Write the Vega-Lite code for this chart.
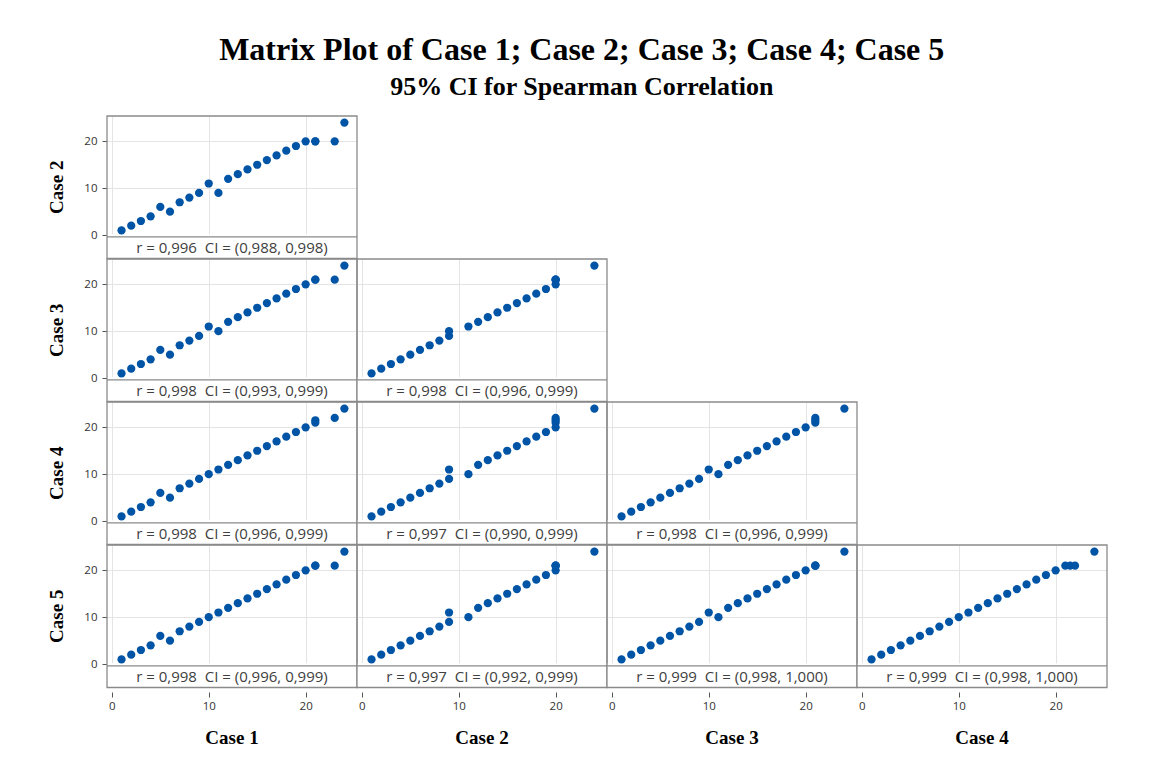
{
  "$schema": "https://vega.github.io/schema/vega-lite/v6.json",
  "background": "white",
  "padding": {"left": 47, "top": 34, "right": 5, "bottom": 5},
  "bounds": "flush",
  "title": {
    "text": "Matrix Plot of Case 1; Case 2; Case 3; Case 4; Case 5",
    "subtitle": "95% CI for Spearman Correlation",
    "font": "Liberation Serif", "fontSize": 32, "fontWeight": "bold", "color": "black",
    "subtitleFont": "Liberation Serif", "subtitleFontSize": 26, "subtitleFontWeight": "bold", "subtitleColor": "black",
    "subtitlePadding": 7, "anchor": "middle", "offset": 14, "dx": 4
  },
  "data": {"values": [
    {"xv":"Case 1","yv":"Case 2","label":"r = 0,996\u00a0\u00a0CI = (0,988, 0,998)"},
    {"xv":"Case 1","yv":"Case 3","label":"r = 0,998\u00a0\u00a0CI = (0,993, 0,999)"},
    {"xv":"Case 2","yv":"Case 3","label":"r = 0,998\u00a0\u00a0CI = (0,996, 0,999)"},
    {"xv":"Case 1","yv":"Case 4","label":"r = 0,998\u00a0\u00a0CI = (0,996, 0,999)"},
    {"xv":"Case 2","yv":"Case 4","label":"r = 0,997\u00a0\u00a0CI = (0,990, 0,999)"},
    {"xv":"Case 3","yv":"Case 4","label":"r = 0,998\u00a0\u00a0CI = (0,996, 0,999)"},
    {"xv":"Case 1","yv":"Case 5","label":"r = 0,998\u00a0\u00a0CI = (0,996, 0,999)"},
    {"xv":"Case 2","yv":"Case 5","label":"r = 0,997\u00a0\u00a0CI = (0,992, 0,999)"},
    {"xv":"Case 3","yv":"Case 5","label":"r = 0,999\u00a0\u00a0CI = (0,998, 1,000)"},
    {"xv":"Case 4","yv":"Case 5","label":"r = 0,999\u00a0\u00a0CI = (0,998, 1,000)"},

    {"xv":"Case 1","yv":"Case 2","x":1,"y":1},{"xv":"Case 1","yv":"Case 2","x":2,"y":2},{"xv":"Case 1","yv":"Case 2","x":3,"y":3},{"xv":"Case 1","yv":"Case 2","x":4,"y":4},
    {"xv":"Case 1","yv":"Case 2","x":5,"y":6},{"xv":"Case 1","yv":"Case 2","x":6,"y":5},{"xv":"Case 1","yv":"Case 2","x":7,"y":7},{"xv":"Case 1","yv":"Case 2","x":8,"y":8},
    {"xv":"Case 1","yv":"Case 2","x":9,"y":9},{"xv":"Case 1","yv":"Case 2","x":10,"y":11},{"xv":"Case 1","yv":"Case 2","x":11,"y":9},{"xv":"Case 1","yv":"Case 2","x":12,"y":12},
    {"xv":"Case 1","yv":"Case 2","x":13,"y":13},{"xv":"Case 1","yv":"Case 2","x":14,"y":14},{"xv":"Case 1","yv":"Case 2","x":15,"y":15},{"xv":"Case 1","yv":"Case 2","x":16,"y":16},
    {"xv":"Case 1","yv":"Case 2","x":17,"y":17},{"xv":"Case 1","yv":"Case 2","x":18,"y":18},{"xv":"Case 1","yv":"Case 2","x":19,"y":19},{"xv":"Case 1","yv":"Case 2","x":20,"y":20},
    {"xv":"Case 1","yv":"Case 2","x":21,"y":20},{"xv":"Case 1","yv":"Case 2","x":21,"y":20},{"xv":"Case 1","yv":"Case 2","x":23,"y":20},{"xv":"Case 1","yv":"Case 2","x":24,"y":24},

    {"xv":"Case 1","yv":"Case 3","x":1,"y":1},{"xv":"Case 1","yv":"Case 3","x":2,"y":2},{"xv":"Case 1","yv":"Case 3","x":3,"y":3},{"xv":"Case 1","yv":"Case 3","x":4,"y":4},
    {"xv":"Case 1","yv":"Case 3","x":5,"y":6},{"xv":"Case 1","yv":"Case 3","x":6,"y":5},{"xv":"Case 1","yv":"Case 3","x":7,"y":7},{"xv":"Case 1","yv":"Case 3","x":8,"y":8},
    {"xv":"Case 1","yv":"Case 3","x":9,"y":9},{"xv":"Case 1","yv":"Case 3","x":10,"y":11},{"xv":"Case 1","yv":"Case 3","x":11,"y":10},{"xv":"Case 1","yv":"Case 3","x":12,"y":12},
    {"xv":"Case 1","yv":"Case 3","x":13,"y":13},{"xv":"Case 1","yv":"Case 3","x":14,"y":14},{"xv":"Case 1","yv":"Case 3","x":15,"y":15},{"xv":"Case 1","yv":"Case 3","x":16,"y":16},
    {"xv":"Case 1","yv":"Case 3","x":17,"y":17},{"xv":"Case 1","yv":"Case 3","x":18,"y":18},{"xv":"Case 1","yv":"Case 3","x":19,"y":19},{"xv":"Case 1","yv":"Case 3","x":20,"y":20},
    {"xv":"Case 1","yv":"Case 3","x":21,"y":21},{"xv":"Case 1","yv":"Case 3","x":21,"y":21},{"xv":"Case 1","yv":"Case 3","x":23,"y":21},{"xv":"Case 1","yv":"Case 3","x":24,"y":24},

    {"xv":"Case 2","yv":"Case 3","x":1,"y":1},{"xv":"Case 2","yv":"Case 3","x":2,"y":2},{"xv":"Case 2","yv":"Case 3","x":3,"y":3},{"xv":"Case 2","yv":"Case 3","x":4,"y":4},
    {"xv":"Case 2","yv":"Case 3","x":6,"y":6},{"xv":"Case 2","yv":"Case 3","x":5,"y":5},{"xv":"Case 2","yv":"Case 3","x":7,"y":7},{"xv":"Case 2","yv":"Case 3","x":8,"y":8},
    {"xv":"Case 2","yv":"Case 3","x":9,"y":9},{"xv":"Case 2","yv":"Case 3","x":11,"y":11},{"xv":"Case 2","yv":"Case 3","x":9,"y":10},{"xv":"Case 2","yv":"Case 3","x":12,"y":12},
    {"xv":"Case 2","yv":"Case 3","x":13,"y":13},{"xv":"Case 2","yv":"Case 3","x":14,"y":14},{"xv":"Case 2","yv":"Case 3","x":15,"y":15},{"xv":"Case 2","yv":"Case 3","x":16,"y":16},
    {"xv":"Case 2","yv":"Case 3","x":17,"y":17},{"xv":"Case 2","yv":"Case 3","x":18,"y":18},{"xv":"Case 2","yv":"Case 3","x":19,"y":19},{"xv":"Case 2","yv":"Case 3","x":20,"y":20},
    {"xv":"Case 2","yv":"Case 3","x":20,"y":21},{"xv":"Case 2","yv":"Case 3","x":20,"y":21},{"xv":"Case 2","yv":"Case 3","x":20,"y":21},{"xv":"Case 2","yv":"Case 3","x":24,"y":24},

    {"xv":"Case 1","yv":"Case 4","x":1,"y":1},{"xv":"Case 1","yv":"Case 4","x":2,"y":2},{"xv":"Case 1","yv":"Case 4","x":3,"y":3},{"xv":"Case 1","yv":"Case 4","x":4,"y":4},
    {"xv":"Case 1","yv":"Case 4","x":5,"y":6},{"xv":"Case 1","yv":"Case 4","x":6,"y":5},{"xv":"Case 1","yv":"Case 4","x":7,"y":7},{"xv":"Case 1","yv":"Case 4","x":8,"y":8},
    {"xv":"Case 1","yv":"Case 4","x":9,"y":9},{"xv":"Case 1","yv":"Case 4","x":10,"y":10},{"xv":"Case 1","yv":"Case 4","x":11,"y":11},{"xv":"Case 1","yv":"Case 4","x":12,"y":12},
    {"xv":"Case 1","yv":"Case 4","x":13,"y":13},{"xv":"Case 1","yv":"Case 4","x":14,"y":14},{"xv":"Case 1","yv":"Case 4","x":15,"y":15},{"xv":"Case 1","yv":"Case 4","x":16,"y":16},
    {"xv":"Case 1","yv":"Case 4","x":17,"y":17},{"xv":"Case 1","yv":"Case 4","x":18,"y":18},{"xv":"Case 1","yv":"Case 4","x":19,"y":19},{"xv":"Case 1","yv":"Case 4","x":20,"y":20},
    {"xv":"Case 1","yv":"Case 4","x":21,"y":21},{"xv":"Case 1","yv":"Case 4","x":21,"y":21.5},{"xv":"Case 1","yv":"Case 4","x":23,"y":22},{"xv":"Case 1","yv":"Case 4","x":24,"y":24},

    {"xv":"Case 2","yv":"Case 4","x":1,"y":1},{"xv":"Case 2","yv":"Case 4","x":2,"y":2},{"xv":"Case 2","yv":"Case 4","x":3,"y":3},{"xv":"Case 2","yv":"Case 4","x":4,"y":4},
    {"xv":"Case 2","yv":"Case 4","x":6,"y":6},{"xv":"Case 2","yv":"Case 4","x":5,"y":5},{"xv":"Case 2","yv":"Case 4","x":7,"y":7},{"xv":"Case 2","yv":"Case 4","x":8,"y":8},
    {"xv":"Case 2","yv":"Case 4","x":9,"y":9},{"xv":"Case 2","yv":"Case 4","x":11,"y":10},{"xv":"Case 2","yv":"Case 4","x":9,"y":11},{"xv":"Case 2","yv":"Case 4","x":12,"y":12},
    {"xv":"Case 2","yv":"Case 4","x":13,"y":13},{"xv":"Case 2","yv":"Case 4","x":14,"y":14},{"xv":"Case 2","yv":"Case 4","x":15,"y":15},{"xv":"Case 2","yv":"Case 4","x":16,"y":16},
    {"xv":"Case 2","yv":"Case 4","x":17,"y":17},{"xv":"Case 2","yv":"Case 4","x":18,"y":18},{"xv":"Case 2","yv":"Case 4","x":19,"y":19},{"xv":"Case 2","yv":"Case 4","x":20,"y":20},
    {"xv":"Case 2","yv":"Case 4","x":20,"y":21},{"xv":"Case 2","yv":"Case 4","x":20,"y":21.5},{"xv":"Case 2","yv":"Case 4","x":20,"y":22},{"xv":"Case 2","yv":"Case 4","x":24,"y":24},

    {"xv":"Case 3","yv":"Case 4","x":1,"y":1},{"xv":"Case 3","yv":"Case 4","x":2,"y":2},{"xv":"Case 3","yv":"Case 4","x":3,"y":3},{"xv":"Case 3","yv":"Case 4","x":4,"y":4},
    {"xv":"Case 3","yv":"Case 4","x":6,"y":6},{"xv":"Case 3","yv":"Case 4","x":5,"y":5},{"xv":"Case 3","yv":"Case 4","x":7,"y":7},{"xv":"Case 3","yv":"Case 4","x":8,"y":8},
    {"xv":"Case 3","yv":"Case 4","x":9,"y":9},{"xv":"Case 3","yv":"Case 4","x":11,"y":10},{"xv":"Case 3","yv":"Case 4","x":10,"y":11},{"xv":"Case 3","yv":"Case 4","x":12,"y":12},
    {"xv":"Case 3","yv":"Case 4","x":13,"y":13},{"xv":"Case 3","yv":"Case 4","x":14,"y":14},{"xv":"Case 3","yv":"Case 4","x":15,"y":15},{"xv":"Case 3","yv":"Case 4","x":16,"y":16},
    {"xv":"Case 3","yv":"Case 4","x":17,"y":17},{"xv":"Case 3","yv":"Case 4","x":18,"y":18},{"xv":"Case 3","yv":"Case 4","x":19,"y":19},{"xv":"Case 3","yv":"Case 4","x":20,"y":20},
    {"xv":"Case 3","yv":"Case 4","x":21,"y":21},{"xv":"Case 3","yv":"Case 4","x":21,"y":21.5},{"xv":"Case 3","yv":"Case 4","x":21,"y":22},{"xv":"Case 3","yv":"Case 4","x":24,"y":24},

    {"xv":"Case 1","yv":"Case 5","x":1,"y":1},{"xv":"Case 1","yv":"Case 5","x":2,"y":2},{"xv":"Case 1","yv":"Case 5","x":3,"y":3},{"xv":"Case 1","yv":"Case 5","x":4,"y":4},
    {"xv":"Case 1","yv":"Case 5","x":5,"y":6},{"xv":"Case 1","yv":"Case 5","x":6,"y":5},{"xv":"Case 1","yv":"Case 5","x":7,"y":7},{"xv":"Case 1","yv":"Case 5","x":8,"y":8},
    {"xv":"Case 1","yv":"Case 5","x":9,"y":9},{"xv":"Case 1","yv":"Case 5","x":10,"y":10},{"xv":"Case 1","yv":"Case 5","x":11,"y":11},{"xv":"Case 1","yv":"Case 5","x":12,"y":12},
    {"xv":"Case 1","yv":"Case 5","x":13,"y":13},{"xv":"Case 1","yv":"Case 5","x":14,"y":14},{"xv":"Case 1","yv":"Case 5","x":15,"y":15},{"xv":"Case 1","yv":"Case 5","x":16,"y":16},
    {"xv":"Case 1","yv":"Case 5","x":17,"y":17},{"xv":"Case 1","yv":"Case 5","x":18,"y":18},{"xv":"Case 1","yv":"Case 5","x":19,"y":19},{"xv":"Case 1","yv":"Case 5","x":20,"y":20},
    {"xv":"Case 1","yv":"Case 5","x":21,"y":21},{"xv":"Case 1","yv":"Case 5","x":21,"y":21},{"xv":"Case 1","yv":"Case 5","x":23,"y":21},{"xv":"Case 1","yv":"Case 5","x":24,"y":24},

    {"xv":"Case 2","yv":"Case 5","x":1,"y":1},{"xv":"Case 2","yv":"Case 5","x":2,"y":2},{"xv":"Case 2","yv":"Case 5","x":3,"y":3},{"xv":"Case 2","yv":"Case 5","x":4,"y":4},
    {"xv":"Case 2","yv":"Case 5","x":6,"y":6},{"xv":"Case 2","yv":"Case 5","x":5,"y":5},{"xv":"Case 2","yv":"Case 5","x":7,"y":7},{"xv":"Case 2","yv":"Case 5","x":8,"y":8},
    {"xv":"Case 2","yv":"Case 5","x":9,"y":9},{"xv":"Case 2","yv":"Case 5","x":11,"y":10},{"xv":"Case 2","yv":"Case 5","x":9,"y":11},{"xv":"Case 2","yv":"Case 5","x":12,"y":12},
    {"xv":"Case 2","yv":"Case 5","x":13,"y":13},{"xv":"Case 2","yv":"Case 5","x":14,"y":14},{"xv":"Case 2","yv":"Case 5","x":15,"y":15},{"xv":"Case 2","yv":"Case 5","x":16,"y":16},
    {"xv":"Case 2","yv":"Case 5","x":17,"y":17},{"xv":"Case 2","yv":"Case 5","x":18,"y":18},{"xv":"Case 2","yv":"Case 5","x":19,"y":19},{"xv":"Case 2","yv":"Case 5","x":20,"y":20},
    {"xv":"Case 2","yv":"Case 5","x":20,"y":21},{"xv":"Case 2","yv":"Case 5","x":20,"y":21},{"xv":"Case 2","yv":"Case 5","x":20,"y":21},{"xv":"Case 2","yv":"Case 5","x":24,"y":24},

    {"xv":"Case 3","yv":"Case 5","x":1,"y":1},{"xv":"Case 3","yv":"Case 5","x":2,"y":2},{"xv":"Case 3","yv":"Case 5","x":3,"y":3},{"xv":"Case 3","yv":"Case 5","x":4,"y":4},
    {"xv":"Case 3","yv":"Case 5","x":6,"y":6},{"xv":"Case 3","yv":"Case 5","x":5,"y":5},{"xv":"Case 3","yv":"Case 5","x":7,"y":7},{"xv":"Case 3","yv":"Case 5","x":8,"y":8},
    {"xv":"Case 3","yv":"Case 5","x":9,"y":9},{"xv":"Case 3","yv":"Case 5","x":11,"y":10},{"xv":"Case 3","yv":"Case 5","x":10,"y":11},{"xv":"Case 3","yv":"Case 5","x":12,"y":12},
    {"xv":"Case 3","yv":"Case 5","x":13,"y":13},{"xv":"Case 3","yv":"Case 5","x":14,"y":14},{"xv":"Case 3","yv":"Case 5","x":15,"y":15},{"xv":"Case 3","yv":"Case 5","x":16,"y":16},
    {"xv":"Case 3","yv":"Case 5","x":17,"y":17},{"xv":"Case 3","yv":"Case 5","x":18,"y":18},{"xv":"Case 3","yv":"Case 5","x":19,"y":19},{"xv":"Case 3","yv":"Case 5","x":20,"y":20},
    {"xv":"Case 3","yv":"Case 5","x":21,"y":21},{"xv":"Case 3","yv":"Case 5","x":21,"y":21},{"xv":"Case 3","yv":"Case 5","x":21,"y":21},{"xv":"Case 3","yv":"Case 5","x":24,"y":24},

    {"xv":"Case 4","yv":"Case 5","x":1,"y":1},{"xv":"Case 4","yv":"Case 5","x":2,"y":2},{"xv":"Case 4","yv":"Case 5","x":3,"y":3},{"xv":"Case 4","yv":"Case 5","x":4,"y":4},
    {"xv":"Case 4","yv":"Case 5","x":6,"y":6},{"xv":"Case 4","yv":"Case 5","x":5,"y":5},{"xv":"Case 4","yv":"Case 5","x":7,"y":7},{"xv":"Case 4","yv":"Case 5","x":8,"y":8},
    {"xv":"Case 4","yv":"Case 5","x":9,"y":9},{"xv":"Case 4","yv":"Case 5","x":10,"y":10},{"xv":"Case 4","yv":"Case 5","x":11,"y":11},{"xv":"Case 4","yv":"Case 5","x":12,"y":12},
    {"xv":"Case 4","yv":"Case 5","x":13,"y":13},{"xv":"Case 4","yv":"Case 5","x":14,"y":14},{"xv":"Case 4","yv":"Case 5","x":15,"y":15},{"xv":"Case 4","yv":"Case 5","x":16,"y":16},
    {"xv":"Case 4","yv":"Case 5","x":17,"y":17},{"xv":"Case 4","yv":"Case 5","x":18,"y":18},{"xv":"Case 4","yv":"Case 5","x":19,"y":19},{"xv":"Case 4","yv":"Case 5","x":20,"y":20},
    {"xv":"Case 4","yv":"Case 5","x":21,"y":21},{"xv":"Case 4","yv":"Case 5","x":21.5,"y":21},{"xv":"Case 4","yv":"Case 5","x":22,"y":21},{"xv":"Case 4","yv":"Case 5","x":24,"y":24}
  ]},
  "facet": {
    "row": {"field": "yv", "type": "nominal", "header": {"title": null, "labelOrient": "left", "labelAngle": -90, "labelFont": "Liberation Serif", "labelFontSize": 19, "labelFontWeight": "bold", "labelColor": "black", "labelPadding": 8}},
    "column": {"field": "xv", "type": "nominal", "header": {"title": null, "labelOrient": "bottom", "labelFont": "Liberation Serif", "labelFontSize": 19, "labelFontWeight": "bold", "labelColor": "black", "labelPadding": 17}}
  },
  "spacing": {"row": 0, "column": 0},
  "spec": {
    "width": 250,
    "height": 142.5,
    "layer": [
      {
        "transform": [{"filter": "isValid(datum.label)"}],
        "mark": {"type": "rect", "fill": "white", "stroke": null},
        "encoding": {
          "x": {"datum": -0.5, "type": "quantitative"},
          "x2": {"datum": 25.3},
          "y": {"datum": -5, "type": "quantitative"},
          "y2": {"datum": 0.15}
        }
      },
      {
        "transform": [{"filter": "isValid(datum.label)"}],
        "mark": {"type": "rule", "color": "#8a8a8a", "strokeWidth": 1.2},
        "encoding": {"y": {"datum": -0.4, "type": "quantitative"}}
      },
      {
        "transform": [{"filter": "isValid(datum.x)"}],
        "mark": {"type": "circle", "size": 68, "color": "#0054a6", "opacity": 1},
        "encoding": {
          "x": {"field": "x", "type": "quantitative",
                "scale": {"domain": [-0.5, 25.3], "nice": false, "zero": false},
                "axis": {"title": null, "values": [0, 10, 20], "grid": true, "gridColor": "#e4e4e4", "domain": false, "tickColor": "#555", "tickSize": 5, "offset": 4, "labelPadding": 3, "labelFont": "Open Sans", "labelFontSize": 11.5, "labelColor": "#333"}},
          "y": {"field": "y", "type": "quantitative",
                "scale": {"domain": [-5, 25.4], "nice": false, "zero": false},
                "axis": {"title": null, "values": [0, 10, 20], "grid": true, "gridColor": "#e4e4e4", "domain": false, "tickColor": "#555", "tickSize": 5, "labelPadding": 5, "labelFont": "Open Sans", "labelFontSize": 11.5, "labelColor": "#333"}}
        }
      },
      {
        "transform": [{"filter": "isValid(datum.label)"}],
        "mark": {"type": "text", "font": "Open Sans", "fontSize": 15, "color": "#404040", "baseline": "middle", "align": "center"},
        "encoding": {
          "x": {"datum": 12.4, "type": "quantitative"},
          "y": {"datum": -2.7, "type": "quantitative"},
          "text": {"field": "label"}
        }
      },
      {
        "transform": [{"filter": "isValid(datum.label)"}],
        "mark": {"type": "rect", "fill": null, "stroke": "#8a8a8a", "strokeWidth": 1.3},
        "encoding": {
          "x": {"datum": -0.5, "type": "quantitative"},
          "x2": {"datum": 25.3},
          "y": {"datum": -5, "type": "quantitative"},
          "y2": {"datum": 25.4}
        }
      }
    ]
  },
  "config": {
    "view": {"stroke": null}
  }
}
